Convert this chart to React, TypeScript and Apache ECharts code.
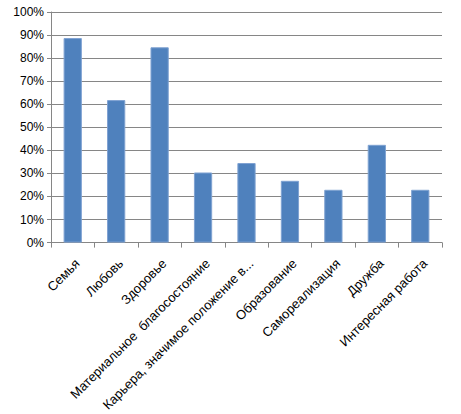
import React, { useEffect, useRef } from "react";
import * as echarts from "echarts";

const categories = [
  "Семья",
  "Любовь",
  "Здоровье",
  "Материальное  благосостояние",
  "Карьера, значимое положение в...",
  "Образование",
  "Самореализация",
  "Дружба",
  "Интересная работа",
];
const values = [88.7, 61.8, 84.7, 30.4, 34.5, 26.8, 22.9, 42.4, 22.9];
const yTicks = { min: 0, max: 100, interval: 10 };

export default function App() {
  const ref = useRef<HTMLDivElement>(null);
  useEffect(() => {
    const chart = echarts.init(ref.current!, null, { renderer: "svg" });
    chart.setOption({
      animation: false,
      backgroundColor: "#ffffff",
      grid: { left: 51, right: 19, top: 12, bottom: 171, containLabel: false },
      xAxis: {
        type: "category",
        data: categories,
        boundaryGap: true,
        axisLine: { show: true, lineStyle: { color: "#868686", width: 1 } },
        axisTick: { show: true, alignWithLabel: false, length: 5, lineStyle: { color: "#868686" } },
        axisLabel: {
          interval: 0,
          rotate: 45,
          margin: 14,
          verticalAlign: "top",
          color: "#000000",
          fontSize: 13,
          fontFamily: "Liberation Sans, Arial, sans-serif",
        },
      },
      yAxis: {
        type: "value",
        min: yTicks.min,
        max: yTicks.max,
        interval: yTicks.interval,
        axisLine: { show: true, lineStyle: { color: "#868686", width: 1 } },
        axisTick: { show: true, length: 4, lineStyle: { color: "#868686" } },
        splitLine: { show: true, lineStyle: { color: "#868686", width: 1 } },
        axisLabel: {
          formatter: "{value}%",
          color: "#000000",
          fontSize: 12,
          margin: 7,
          fontFamily: "Liberation Sans, Arial, sans-serif",
        },
      },
      series: [
        {
          type: "bar",
          data: values,
          barWidth: "42%",
          itemStyle: { color: "#4F81BD", borderColor: "#7FA2D2", borderWidth: 1 },
        },
      ],
    });
    return () => chart.dispose();
  }, []);
  return (
    <div
      ref={ref}
      style={{ position: "absolute", left: 0, top: 0, width: 461, height: 414 }}
    />
  );
}
